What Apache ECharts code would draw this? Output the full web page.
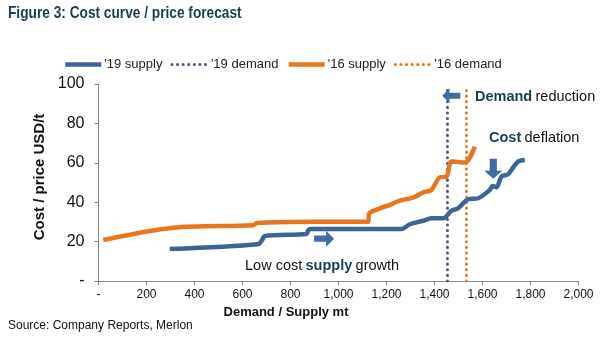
<!DOCTYPE html>
<html><head><meta charset="utf-8">
<script src="https://cdn.jsdelivr.net/npm/echarts@6/dist/echarts.min.js"></script>
<style>html,body{margin:0;padding:0;background:#fff}#c{width:615px;height:344px}</style>
</head><body><div id="c"></div>
<script>
const supply19 = [[297,16.2],[665,18.6],[680,20.5],[693,22.8],[867,23.9],[873,25.5],[880,26.4],[1262,26.4],[1297,28.8],[1353,30.6],[1387,31.8],[1436,31.8],[1471,35.7],[1498,36.9],[1540,41.5],[1582,42],[1630,46.2],[1642,48.2],[1658,47.6],[1679,53],[1707,54.2],[1728,57.7],[1748,60.6],[1776,61.4]];
const supply16 = [[20,20.8],[311,27],[644,28.3],[660,29.5],[900,30.1],[1123,30.1],[1128,34.3],[1172,36.9],[1214,38.6],[1255,40.8],[1311,42.3],[1353,45],[1387,46.2],[1422,52.6],[1450,53],[1471,60.6],[1526,60.1],[1568,68.2]];
const demand19 = 1454;
const demand16 = 1533;
const seriesNames = ["'19 supply","'19 demand","'16 supply","'16 demand"];
const xTicks = {min:0,max:2000,interval:200};
const yTicks = {min:0,max:100,interval:20};

const BLUE='#3B6595', ORANGE='#E8761C', DBLUE='#4A5A78', TEAL='#173F50';
const FF='Liberation Sans, Arial, sans-serif';
const chart = echarts.init(document.getElementById('c'));
const fmt = v => v===0 ? '-' : v.toLocaleString('en-US');
const arrowPath = 'path://M0,3 L6,3 L6,0 L10,5 L6,10 L6,7 L0,7 Z';
const rich = {b:{fontSize:14.5,fontWeight:'bold',fill:TEAL,fontFamily:FF},n:{fontSize:14.5,fill:'#111',fontFamily:FF}};
const solidLeg = {width:4.5,type:'solid',cap:'butt'};
const dotLeg = {width:3,type:[0.1,5.5],cap:'round'};
chart.setOption({
  animation:false,
  textStyle:{fontFamily:FF},
  legend:{top:53,left:58,itemWidth:36,itemHeight:10,itemGap:8,itemStyle:{opacity:0},
    textStyle:{fontSize:13,color:'#222',padding:[0,0,0,-2]},
    data:[
      {name:seriesNames[0],lineStyle:solidLeg},
      {name:seriesNames[1],lineStyle:dotLeg},
      {name:seriesNames[2],lineStyle:solidLeg},
      {name:seriesNames[3],lineStyle:dotLeg}
    ]},
  grid:{left:98.5,right:36.5,top:84,bottom:63},
  xAxis:{type:'value',min:xTicks.min,max:xTicks.max,interval:xTicks.interval,
    axisLine:{lineStyle:{color:'#868686'}},axisTick:{show:true,length:4,lineStyle:{color:'#868686'}},
    axisLabel:{formatter:fmt,fontSize:12,color:'#111',margin:8},splitLine:{show:false}},
  yAxis:{type:'value',min:yTicks.min,max:yTicks.max,interval:yTicks.interval,
    axisLine:{show:true,lineStyle:{color:'#868686'}},axisTick:{show:true,length:4,lineStyle:{color:'#868686'}},
    axisLabel:{formatter:fmt,fontSize:16,color:'#111',margin:14},splitLine:{show:false}},
  series:[
    {name:seriesNames[0],type:'line',data:supply19,symbol:'none',smooth:0.3,color:BLUE,lineStyle:{width:4.5,color:BLUE},z:3,
     markPoint:{silent:true,data:[
       {coord:[940,21.5],symbol:arrowPath,symbolSize:[20,16],itemStyle:{color:'#3D6DA6',opacity:1},label:{show:false}},
       {coord:[1645,57],symbol:arrowPath,symbolSize:[20,18],symbolRotate:-90,itemStyle:{color:'#3D6DA6',opacity:1},label:{show:false}},
       {coord:[1470,94],symbol:arrowPath,symbolSize:[18,15],symbolRotate:180,itemStyle:{color:'#3D6DA6',opacity:1},label:{show:false}}
     ]}},
    {name:seriesNames[1],type:'line',data:[[demand19,0],[demand19,98.5]],symbol:'none',color:DBLUE,
     lineStyle:{width:3,color:DBLUE,type:[0.1,5.5],cap:'round'},z:2},
    {name:seriesNames[2],type:'line',data:supply16,symbol:'none',smooth:0.3,color:ORANGE,lineStyle:{width:4.5,color:ORANGE},z:3},
    {name:seriesNames[3],type:'line',data:[[demand16,0],[demand16,98.5]],symbol:'none',color:ORANGE,
     lineStyle:{width:3,color:ORANGE,type:[0.1,5.5],cap:'round'},z:2}
  ],
  graphic:[
    {type:'text',x:8,y:13,scaleX:0.83,style:{text:'Figure 3: Cost curve / price forecast',fontSize:16.5,fontWeight:'bold',fill:TEAL,fontFamily:FF,textVerticalAlign:'middle'}},
    {type:'text',x:40,y:177,rotation:Math.PI/2,style:{text:'Cost / price USD/t',fontSize:15,fontWeight:'bold',fill:'#111',fontFamily:FF,textAlign:'center',textVerticalAlign:'middle'}},
    {type:'text',x:286,y:312,style:{text:'Demand / Supply mt',fontSize:13,fontWeight:'bold',fill:'#111',fontFamily:FF,textAlign:'center',textVerticalAlign:'middle'}},
    {type:'text',left:475,top:89,style:{rich:rich,text:'{b|Demand} {n|reduction}'}},
    {type:'text',left:489,top:130,style:{rich:rich,text:'{b|Cost} {n|deflation}'}},
    {type:'text',left:245,top:258,style:{rich:rich,text:'{n|Low cost} {b|supply} {n|growth}'}},
    {type:'text',left:8,top:320,style:{text:'Source: Company Reports, Merlon',fontSize:12,fill:'#111',fontFamily:FF}}
  ]
});
</script></body></html>
